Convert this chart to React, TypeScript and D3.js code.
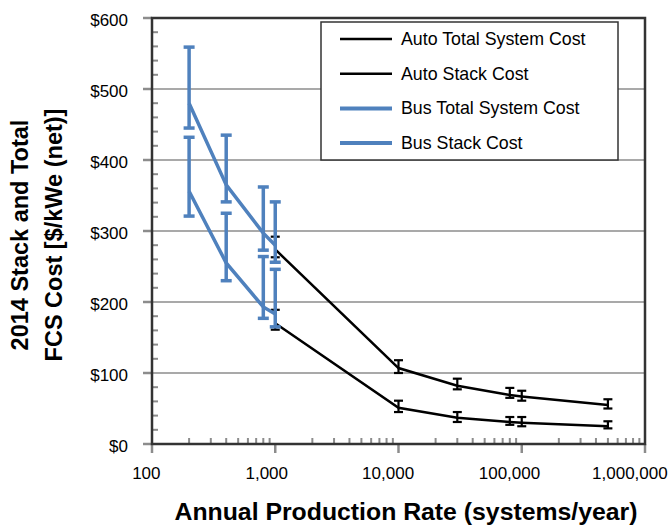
import * as d3 from 'd3'
import { useEffect } from 'react'

// production rates (systems/year)
const busRates = [200, 400, 800, 1000]
const autoRates = [1000, 10000, 30000, 80000, 100000, 500000]

// bus values ($/kWe)
const busTotal = [480, 365, 297, 280]
const busTotalHi = [559, 435, 362, 341]
const busTotalLo = [445, 341, 273, 256]
const busStack = [356, 255, 193, 183]
const busStackHi = [432, 325, 264, 246]
const busStackLo = [321, 230, 177, 165]

// auto values ($/kWe)
const autoTotal = [274, 107, 82, 69, 67, 55]
const autoTotalHi = [292, 118, 92, 79, 75, 63]
const autoTotalLo = [263, 100, 77, 65, 61, 50]
const autoStack = [170, 51, 37, 31, 30, 25]
const autoStackHi = [189, 61, 45, 38, 38, 32]
const autoStackLo = [161, 45, 31, 27, 25, 22]

const yTicks = [0, 100, 200, 300, 400, 500, 600]
const xTicks = [100, 1000, 10000, 100000, 1000000]

const legendItems = [
  { label: 'Auto Total System Cost', color: '#000000', width: 2.5 },
  { label: 'Auto Stack Cost', color: '#000000', width: 2.5 },
  { label: 'Bus Total System Cost', color: '#4f81bd', width: 4 },
  { label: 'Bus Stack Cost', color: '#4f81bd', width: 4 },
]

const BLUE = '#4f81bd'
const GRID = '#8c8c8c'
const FRAME = '#333333'

const left = 152
const right = 645
const top = 18
const bottom = 444

const x = d3.scaleLog().domain([100, 1000000]).range([left, right])
const y = d3.scaleLinear().domain([0, 600]).range([bottom, top])

interface Series {
  rates: number[]
  vals: number[]
  hi: number[]
  lo: number[]
  color: string
  lineW: number
  barW: number
  cap: number
}

const series: Series[] = [
  { rates: autoRates, vals: autoTotal, hi: autoTotalHi, lo: autoTotalLo, color: '#000', lineW: 2.5, barW: 2.2, cap: 4.5 },
  { rates: autoRates, vals: autoStack, hi: autoStackHi, lo: autoStackLo, color: '#000', lineW: 2.5, barW: 2.2, cap: 4.5 },
  { rates: busRates, vals: busTotal, hi: busTotalHi, lo: busTotalLo, color: BLUE, lineW: 3.5, barW: 3.5, cap: 5.5 },
  { rates: busRates, vals: busStack, hi: busStackHi, lo: busStackLo, color: BLUE, lineW: 3.5, barW: 3.5, cap: 5.5 },
]

const fmtX = d3.format(',')

function labelWidth(s: string, size: number) {
  let w = 0
  for (const c of s) w += c === ',' ? 0.278 : 0.556
  return w * size
}

export default function App() {
  useEffect(() => {
    document.body.style.margin = '0'
  }, [])

  const line = d3
    .line<[number, number]>()
    .x(d => x(d[0]))
    .y(d => y(d[1]))

  const minorY = d3.range(0, 600, 20).filter(v => v % 100 !== 0)
  const minorX: number[] = []
  for (let dec = 100; dec < 1000000; dec *= 10) {
    for (let k = 2; k <= 9; k++) minorX.push(dec * k)
  }

  return (
    <svg width={671} height={527} style={{ display: 'block', fontFamily: 'Liberation Sans, Arial, sans-serif' }}>
      <rect width={671} height={527} fill="#fff" />

      {/* gridlines */}
      {yTicks.slice(1, -1).map(v => (
        <line key={v} x1={left} x2={right} y1={y(v)} y2={y(v)} stroke={GRID} strokeWidth={1.5} />
      ))}

      {/* minor ticks */}
      {minorY.map(v => (
        <line key={'my' + v} x1={left} x2={left + 6} y1={y(v)} y2={y(v)} stroke={GRID} strokeWidth={2} />
      ))}
      {minorX.map(v => (
        <line key={'mx' + v} x1={x(v)} x2={x(v)} y1={bottom} y2={bottom - 6} stroke={GRID} strokeWidth={2} />
      ))}

      {/* major ticks */}
      {yTicks.map(v => (
        <line key={'ty' + v} x1={left - 9} x2={left} y1={y(v)} y2={y(v)} stroke={GRID} strokeWidth={2.5} />
      ))}
      {xTicks.map(v => (
        <line key={'tx' + v} x1={x(v)} x2={x(v)} y1={bottom} y2={bottom + 9} stroke={GRID} strokeWidth={2.5} />
      ))}

      {/* frame */}
      <rect x={left} y={top} width={right - left} height={bottom - top} fill="none" stroke={FRAME} strokeWidth={2.5} />

      {/* series */}
      {series.map((s, i) => (
        <g key={i}>
          <path
            d={line(s.rates.map((r, j) => [r, s.vals[j]] as [number, number])) || ''}
            fill="none"
            stroke={s.color}
            strokeWidth={s.lineW}
          />
          {s.rates.map((r, j) => {
            const cx = x(r)
            return (
              <g key={j} stroke={s.color} strokeWidth={s.barW}>
                <line x1={cx} x2={cx} y1={y(s.hi[j])} y2={y(s.lo[j])} />
                <line x1={cx - s.cap} x2={cx + s.cap} y1={y(s.hi[j])} y2={y(s.hi[j])} />
                <line x1={cx - s.cap} x2={cx + s.cap} y1={y(s.lo[j])} y2={y(s.lo[j])} />
              </g>
            )
          })}
        </g>
      ))}

      {/* y tick labels */}
      {yTicks.map(v => (
        <text key={'ly' + v} x={128} y={y(v) + 8} textAnchor="end" fontSize={17} fill="#000">
          {'$' + v}
        </text>
      ))}

      {/* x tick labels */}
      {xTicks.map(v => {
        const s = fmtX(v)
        return (
          <text
            key={'lx' + v}
            x={x(v) - labelWidth(s, 17) * 0.2}
            y={479}
            textAnchor="middle"
            fontSize={17}
            fill="#000"
          >
            {s}
          </text>
        )
      })}

      {/* axis titles */}
      <text x={406} y={520} textAnchor="middle" fontSize={24.8} fontWeight="bold" fill="#000">
        Annual Production Rate (systems/year)
      </text>
      <g transform="translate(0,235) rotate(-90)">
        <text x={0} y={28} textAnchor="middle" fontSize={23.5} fontWeight="bold" fill="#000">
          2014 Stack and Total
        </text>
        <text x={0} y={62} textAnchor="middle" fontSize={23.5} fontWeight="bold" fill="#000">
          FCS Cost [$/kWe (net)]
        </text>
      </g>

      {/* legend */}
      <rect x={321} y={22} width={297} height={138} fill="#fff" stroke={FRAME} strokeWidth={1.5} />
      {legendItems.map((d, i) => {
        const ly = 39 + i * 34.7
        return (
          <g key={d.label}>
            <line x1={340} x2={392} y1={ly} y2={ly} stroke={d.color} strokeWidth={d.width} />
            <text x={401} y={ly + 6} fontSize={17.8} fill="#000">
              {d.label}
            </text>
          </g>
        )
      })}
    </svg>
  )
}
